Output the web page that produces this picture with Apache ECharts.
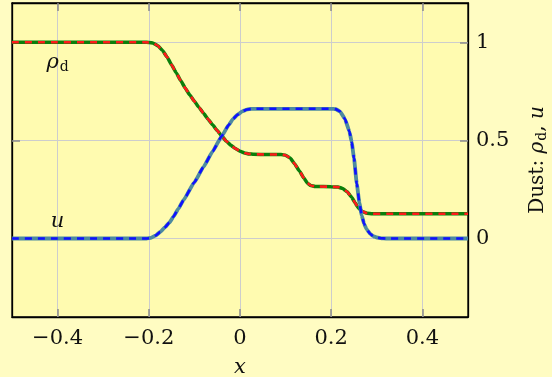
<!DOCTYPE html>
<html><head><meta charset="utf-8">
<script src="https://cdn.jsdelivr.net/npm/echarts@6/dist/echarts.min.js"></script>
<style>html,body{margin:0;padding:0;background:#fffcc2}#c{width:552px;height:377px}</style>
</head><body><div id="c"></div>
<script>
const xTicks = [-0.4, -0.2, 0, 0.2, 0.4];
const yTicks = [0, 0.5, 1];
const rhoX = [-0.5,-0.21,-0.2,-0.19,-0.18,-0.17,-0.16,-0.15,-0.14,-0.13,-0.12,-0.11,-0.10,-0.09,-0.08,-0.07,-0.06,-0.05,-0.04,-0.03,-0.02,-0.01,0,0.01,0.02,0.03,0.06,0.09,0.10,0.11,0.12,0.13,0.14,0.148,0.155,0.165,0.20,0.215,0.225,0.235,0.245,0.252,0.26,0.268,0.278,0.29,0.5];
const rhoY = [1,1,0.999,0.995,0.982,0.958,0.925,0.885,0.845,0.805,0.766,0.731,0.699,0.668,0.638,0.608,0.579,0.55,0.522,0.496,0.475,0.458,0.445,0.436,0.431,0.429,0.428,0.428,0.424,0.41,0.38,0.345,0.308,0.282,0.27,0.265,0.264,0.262,0.255,0.238,0.21,0.183,0.155,0.138,0.129,0.126,0.126];
const uX = [-0.5,-0.205,-0.195,-0.185,-0.175,-0.165,-0.155,-0.146,-0.135,-0.124,-0.10,-0.08,-0.06,-0.04,-0.025,-0.015,-0.005,0.005,0.015,0.025,0.2,0.21,0.219,0.23,0.24,0.245,0.25,0.256,0.262,0.267,0.272,0.278,0.285,0.292,0.30,0.31,0.32,0.5];
const uY = [0,0,0.003,0.015,0.033,0.056,0.081,0.111,0.152,0.195,0.287,0.365,0.444,0.522,0.578,0.61,0.632,0.648,0.657,0.661,0.661,0.659,0.648,0.61,0.545,0.49,0.41,0.28,0.18,0.118,0.075,0.046,0.025,0.012,0.005,0.001,0,0];
const curveLabels = [
  {name: 'rho', x: -0.4, y: 0.895},
  {name: 'u', x: -0.4, y: 0.085}
];

const FONT = 'DejaVu Serif';
const pairs = (xs, ys) => xs.map((x, i) => [x, ys[i]]);
const fmt = v => String(v).replace('-', '\u2212');
const rich = {
  r: {fontFamily: FONT, fontSize: 21, fontStyle: 'italic', color: '#111'},
  s: {fontFamily: FONT, fontSize: 14, color: '#111', padding: [10, 0, 0, 1]},
  n: {fontFamily: FONT, fontSize: 21, color: '#111'},
  i: {fontFamily: FONT, fontSize: 21, fontStyle: 'italic', color: '#111'}
};
const richName = {
  r: {fontFamily: FONT, fontSize: 20, fontStyle: 'italic', color: '#111'},
  s: {fontFamily: FONT, fontSize: 14, color: '#111', padding: [9, 0, 0, 1]},
  n: {fontFamily: FONT, fontSize: 20, color: '#111'},
  i: {fontFamily: FONT, fontSize: 20, fontStyle: 'italic', color: '#111'}
};
const tickStyle = {show: true, inside: true, length: 8, lineStyle: {color: '#8a8a8a', width: 1.5}};
const axisLine = {show: true, onZero: false, lineStyle: {color: '#000', width: 1.3}};

function lineSeries(data, color, width, dashed, extra) {
  return Object.assign({
    type: 'line', data: data, showSymbol: false, symbol: 'none',
    smooth: 0.12, smoothMonotone: 'x', animation: false,
    lineStyle: {color: color, width: width, type: dashed ? [7, 6] : 'solid', cap: 'butt'}
  }, extra || {});
}

const chart = echarts.init(document.getElementById('c'), null, {renderer: 'canvas'});
chart.setOption({
  animation: false,
  backgroundColor: '#fffcc2',
  grid: {left: 12, right: 84, top: 3, bottom: 60, containLabel: false, outerBoundsMode: 'none',
         show: true, backgroundColor: '#fffbb0', borderColor: '#000', borderWidth: 1.3},
  xAxis: [
    {type: 'value', min: -0.5, max: 0.5, position: 'bottom',
     axisLine: axisLine,
     axisTick: Object.assign({customValues: xTicks}, tickStyle),
     axisLabel: {customValues: xTicks, formatter: fmt, margin: 11, fontFamily: FONT, fontSize: 21, color: '#111'},
     splitLine: {show: true, lineStyle: {color: '#cdcdcd', width: 1}},
     name: 'x', nameLocation: 'middle', nameGap: 40,
     nameTextStyle: {fontFamily: FONT, fontSize: 21, fontStyle: 'italic', color: '#111'}},
    {type: 'value', min: -0.5, max: 0.5, position: 'top',
     axisLine: axisLine,
     axisTick: Object.assign({customValues: xTicks}, tickStyle),
     axisLabel: {show: false, customValues: xTicks},
     splitLine: {show: false}}
  ],
  yAxis: [
    {type: 'value', min: -0.4, max: 1.2, position: 'right',
     axisLine: axisLine,
     axisTick: Object.assign({customValues: yTicks}, tickStyle),
     axisLabel: {customValues: yTicks, formatter: fmt, margin: 8, fontFamily: FONT, fontSize: 21, color: '#111'},
     splitLine: {show: true, lineStyle: {color: '#cdcdcd', width: 1}},
     name: '{n|Dust: }{r|ρ}{s|d}{n|, }{i|u}', nameLocation: 'middle', nameGap: 58, nameRotate: 90,
     nameTextStyle: {rich: richName}},
    {type: 'value', min: -0.4, max: 1.2, position: 'left',
     axisLine: axisLine,
     axisTick: Object.assign({customValues: yTicks}, tickStyle),
     axisLabel: {show: false, customValues: yTicks},
     splitLine: {show: false}}
  ],
  series: [
    lineSeries(pairs(rhoX, rhoY), '#0b7f0b', 3.5, false),
    lineSeries(pairs(rhoX, rhoY), '#ff1a1a', 2.6, true, {
      markPoint: {
        symbol: 'circle', symbolSize: 0, animation: false,
        label: {show: true, position: 'inside', rich: rich,
          formatter: p => p.name === 'rho' ? '{r|ρ}{s|d}' : '{i|u}'},
        data: curveLabels.map(l => ({name: l.name, coord: [l.x, l.y]}))
      }
    }),
    lineSeries(pairs(uX, uY), '#4d8aa0', 3.8, false),
    lineSeries(pairs(uX, uY), '#1010ff', 2.6, true)
  ]
});
</script></body></html>
